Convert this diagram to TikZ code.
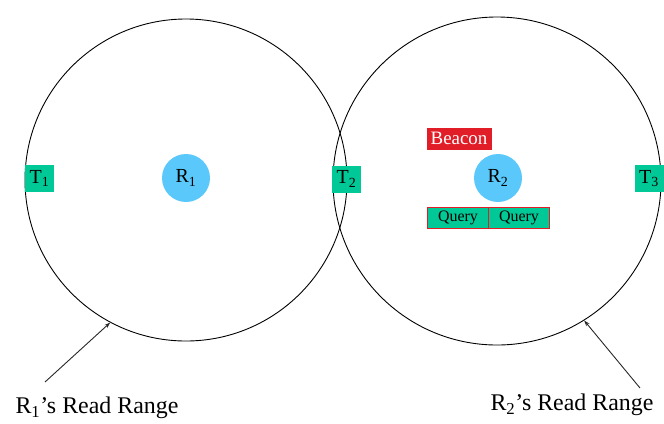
\documentclass[tikz,border=0pt]{standalone}
\usepackage{fontspec}
\setmainfont{Liberation Serif}
\usetikzlibrary{arrows.meta}
\definecolor{tagg}{RGB}{0,200,150}
\definecolor{rdr}{RGB}{90,200,250}
\definecolor{bred}{RGB}{225,30,40}
\begin{document}
\begin{tikzpicture}[x=1bp,y=-1bp,
  readzone/.style={circle,draw=black,line width=0.9pt,minimum size=322bp,inner sep=0pt},
  reader/.style={circle,fill=rdr,minimum size=48bp,inner sep=0pt,font=\fontsize{20}{22}\selectfont},
  tagbox/.style={fill=tagg,minimum width=29bp,minimum height=27bp,inner sep=0pt,font=\fontsize{20}{22}\selectfont},
  query/.style={fill=tagg,draw=bred,line width=0.8pt,minimum width=61bp,minimum height=21bp,inner sep=0pt,font=\fontsize{16}{18}\selectfont},
  beacon/.style={fill=bred,draw=bred,text=white,minimum width=64bp,minimum height=21bp,inner sep=0pt,font=\fontsize{19}{21}\selectfont},
  lbl/.style={font=\fontsize{24}{27}\selectfont,inner sep=0pt},
  ptr/.style={-{Stealth[length=6pt,width=4pt]},line width=0.9pt,draw=black!85}]
\useasboundingbox (0,0) rectangle (664,423);
\node[readzone] (c1) at (186,180) {};
\node[readzone,minimum size=328bp] (c2) at (497,181) {};
\node[reader] (r1) at (186,178) {R\textsubscript{1}};
\node[reader] (r2) at (498,178) {R\textsubscript{2}};
\node[tagbox] (t1) at (39.5,178.5) {T\textsubscript{1}};
\node[tagbox] (t2) at (346.5,179) {T\textsubscript{2}};
\node[tagbox] (t3) at (649,178.5) {T\textsubscript{3}};
\node[beacon] (bc) at (459,138.5) {Beacon};
\node[query] (q1) at (458,217.5) {Query};
\node[query] (q2) at (519,217.5) {Query};
\node[lbl] (l1) at (97,408) {R\textsubscript{1}'s Read Range};
\node[lbl] (l2) at (572,405) {R\textsubscript{2}'s Read Range};
\coordinate (a1) at (45,382);
\coordinate (a2) at (640,388);
\draw[ptr] (a1) -- (c1.242.6);
\draw[ptr] (a2) -- (c2.302);
\end{tikzpicture}
\end{document}
